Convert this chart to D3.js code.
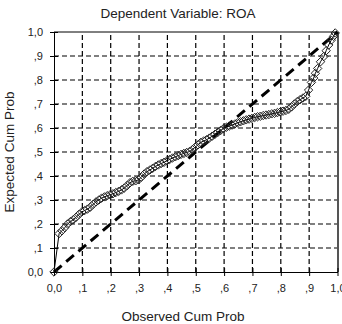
<!DOCTYPE html>
<html><head><meta charset="utf-8">
<script src="https://cdn.jsdelivr.net/npm/d3@7"></script>
<style>body{margin:0;background:#fff}svg{display:block}text{font-family:"Liberation Sans",Arial,sans-serif}</style>
</head><body><svg id="c" width="342" height="324"></svg>
<script>
const title = "Dependent Variable: ROA";
const xTitle = "Observed Cum Prob";
const yTitle = "Expected Cum Prob";
const tickValues = [0,0.1,0.2,0.3,0.4,0.5,0.6,0.7,0.8,0.9,1.0];
const tickLabels = ["0,0",",1",",2",",3",",4",",5",",6",",7",",8",",9","1,0"];
const observed = [0,0.018,0.028,0.038,0.048,0.058,0.068,0.078,0.088,0.098,0.108,0.118,0.128,0.138,0.148,0.158,0.168,0.178,0.188,0.198,0.208,0.218,0.228,0.238,0.248,0.258,0.268,0.278,0.288,0.298,0.308,0.318,0.328,0.338,0.348,0.358,0.368,0.378,0.388,0.398,0.408,0.418,0.428,0.438,0.448,0.458,0.468,0.478,0.488,0.498,0.508,0.518,0.528,0.538,0.548,0.558,0.568,0.578,0.588,0.598,0.608,0.618,0.628,0.638,0.648,0.658,0.668,0.678,0.688,0.698,0.708,0.718,0.728,0.738,0.748,0.758,0.768,0.778,0.788,0.798,0.808,0.818,0.828,0.838,0.848,0.858,0.868,0.878,0.888,0.898,0.908,0.916,0.922,0.930,0.940,0.952,0.960,0.969,0.978,0.986,0.992];
const expected = [0,0.160,0.172,0.185,0.200,0.210,0.218,0.228,0.240,0.250,0.256,0.262,0.270,0.282,0.292,0.300,0.308,0.313,0.318,0.322,0.326,0.331,0.336,0.342,0.350,0.360,0.372,0.378,0.380,0.384,0.395,0.408,0.418,0.425,0.432,0.440,0.446,0.452,0.457,0.463,0.469,0.475,0.480,0.485,0.490,0.494,0.498,0.502,0.510,0.520,0.530,0.540,0.546,0.551,0.558,0.566,0.574,0.582,0.590,0.598,0.603,0.608,0.612,0.617,0.622,0.626,0.630,0.634,0.637,0.640,0.644,0.647,0.649,0.652,0.654,0.656,0.659,0.661,0.664,0.667,0.670,0.673,0.678,0.688,0.700,0.710,0.718,0.725,0.732,0.758,0.790,0.808,0.828,0.848,0.876,0.898,0.922,0.946,0.966,0.982,0.996];
const diagonal = [0,1];

const svg = d3.select("#c");
const x = d3.scaleLinear().domain([0,1]).range([54,337.5]);
const y = d3.scaleLinear().domain([0,1]).range([272,32]);

// gridlines
svg.append("g").selectAll("line.v").data(tickValues.slice(1,-1)).join("line")
  .attr("x1",d=>x(d)).attr("x2",d=>x(d)).attr("y1",y(0)).attr("y2",y(1))
  .attr("stroke","#000").attr("stroke-width",1.2).attr("stroke-dasharray","5,3");
svg.append("g").selectAll("line.h").data(tickValues.slice(1,-1)).join("line")
  .attr("y1",d=>y(d)).attr("y2",d=>y(d)).attr("x1",x(0)).attr("x2",x(1))
  .attr("stroke","#000").attr("stroke-width",1.2).attr("stroke-dasharray","5,3");

// frame top/right
svg.append("line").attr("x1",x(0)).attr("x2",x(1)).attr("y1",y(1)).attr("y2",y(1)).attr("stroke","#000");
svg.append("line").attr("x1",x(1)+0.5).attr("x2",x(1)+0.5).attr("y1",y(1)).attr("y2",y(0)).attr("stroke","#555").attr("stroke-width",2);

// axes
const fmt = d => tickLabels[tickValues.findIndex(v=>Math.abs(v-d)<1e-9)];
const xAxis = d3.axisBottom(x).tickValues(tickValues).tickFormat(fmt).tickSizeInner(4).tickSizeOuter(0).tickPadding(8);
const yAxis = d3.axisLeft(y).tickValues(tickValues).tickFormat(fmt).tickSizeInner(4).tickSizeOuter(0).tickPadding(7);
const gx = svg.append("g").attr("transform",`translate(0,${y(0)})`).call(xAxis);
const gy = svg.append("g").attr("transform",`translate(${x(0)},0)`).call(yAxis);
[gx,gy].forEach(g=>{
  g.select(".domain").attr("stroke","#000");
  g.selectAll(".tick line").attr("stroke","#000");
  g.selectAll(".tick text").attr("font-size",11).attr("fill","#222").attr("font-family","'Liberation Sans',Arial,sans-serif");
});
gx.selectAll(".tick line").attr("y1",-4);
gy.selectAll(".tick line").attr("x1",4);

// diagonal
svg.append("line").attr("x1",x(diagonal[0])).attr("y1",y(diagonal[0])).attr("x2",x(diagonal[1])).attr("y2",y(diagonal[1]))
  .attr("stroke","#000").attr("stroke-width",3).attr("stroke-dasharray","10,6");

// data line
const pts = observed.map((v,i)=>[v,expected[i]]);
svg.append("path").datum(pts).attr("fill","none").attr("stroke","#000").attr("stroke-width",1)
  .attr("d",d3.line().x(d=>x(d[0])).y(d=>y(d[1])));
svg.append("g").selectAll("path").data(pts).join("path")
  .attr("transform",d=>`translate(${x(d[0])},${y(d[1])})`)
  .attr("d","M0,-4.2L4.2,0L0,4.2L-4.2,0Z")
  .attr("fill","none").attr("stroke","#222").attr("stroke-width",1);

// titles
svg.append("text").attr("x",178).attr("y",18).attr("text-anchor","middle").attr("font-size",13.5).attr("fill","#222").text(title);
svg.append("text").attr("x",183).attr("y",321).attr("text-anchor","middle").attr("font-size",13.5).attr("fill","#222").text(xTitle);
svg.append("text").attr("transform","translate(14,152) rotate(-90)").attr("text-anchor","middle").attr("font-size",13.5).attr("fill","#222").text(yTitle);
</script></body></html>
